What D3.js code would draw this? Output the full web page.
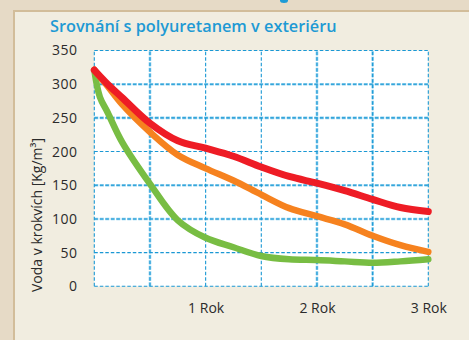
<!DOCTYPE html>
<html>
<head>
<meta charset="utf-8">
<script src="https://cdn.jsdelivr.net/npm/d3@7"></script>
<style>
  html, body { margin: 0; padding: 0; background: #e6dac6; }
  svg { display: block; }
  text { font-family: "Open Sans", "DejaVu Sans", sans-serif; }
</style>
</head>
<body>
<svg id="chart" width="469" height="340"></svg>
<script>
// Time in years (half-year steps plus a few extra points near the start)
const years = [0, 0.05, 0.12, 0.25, 0.5, 0.75, 1, 1.25, 1.5, 1.75, 2, 2.25, 2.5, 2.75, 3];

// Water content in rafters [kg/m3]
const redValues    = [321, 312, 300, 280, 242, 216, 205, 193, 177, 163, 153, 142, 129, 117, 111];
const orangeValues = [321, 311, 297, 270, 229, 195, 175, 157, 136, 116, 104, 92, 75, 61, 51];
const greenValues  = [321, 281, 258, 214, 152, 98, 72, 58, 45, 40, 39, 37, 35, 37, 40];

const yTicks = [0, 50, 100, 150, 200, 250, 300, 350];
const xTicks = [1, 2, 3];
const xGrid = [0, 0.5, 1, 1.5, 2, 2.5, 3];
const softX = [0.5, 2, 2.5];
const softY = [100, 150, 250, 300];

const titleText = "Srovnání s polyuretanem v exteriéru";
const yTitle = "Voda v krokvích [Kg/m³]";

const svg = d3.select("#chart");

// Page frame
svg.append("rect").attr("x", 0).attr("y", 0).attr("width", 469).attr("height", 340).attr("fill", "#e6dac6");
svg.append("rect").attr("x", 13).attr("y", 10).attr("width", 456).attr("height", 330).attr("fill", "#d2bd9a");
svg.append("rect").attr("x", 15).attr("y", 12).attr("width", 454).attr("height", 328).attr("fill", "#f1ede0");
svg.append("ellipse").attr("cx", 284).attr("cy", 0.5).attr("rx", 4).attr("ry", 2.5).attr("fill", "#1e9bd6");

const x = d3.scaleLinear().domain([0, 3]).range([94.3, 428.3]);
const y = d3.scaleLinear().domain([0, 350]).range([286.3, 50.5]);

// Plot background
svg.append("rect")
  .attr("x", x(0)).attr("y", y(350))
  .attr("width", x(3) - x(0)).attr("height", y(0) - y(350))
  .attr("fill", "#ffffff");

// Grid
const grid = svg.append("g");
grid.selectAll("line.hs").data(yTicks.filter(v => softY.includes(v))).join("line")
  .attr("x1", x(0)).attr("x2", x(3)).attr("y1", d => y(d)).attr("y2", d => y(d))
  .attr("stroke", "#8ccfee").attr("stroke-width", 2.6).attr("stroke-dasharray", "4,1.5");
grid.selectAll("line.vs").data(xGrid.filter(v => softX.includes(v))).join("line")
  .attr("y1", y(0)).attr("y2", y(350)).attr("x1", d => x(d)).attr("x2", d => x(d))
  .attr("stroke", "#8ccfee").attr("stroke-width", 2.6).attr("stroke-dasharray", "4,1.5");
grid.selectAll("line.h").data(yTicks).join("line")
  .attr("x1", x(0)).attr("x2", x(3)).attr("y1", d => y(d)).attr("y2", d => y(d))
  .attr("stroke", "#1a98d4").attr("stroke-width", 1.1).attr("stroke-dasharray", "3.5,2");
grid.selectAll("line.v").data(xGrid).join("line")
  .attr("y1", y(0)).attr("y2", y(350)).attr("x1", d => x(d)).attr("x2", d => x(d))
  .attr("stroke", "#1a98d4").attr("stroke-width", 1.1).attr("stroke-dasharray", "3.5,2");

// Series
const line = d3.line().x(d => x(d[0])).y(d => y(d[1])).curve(d3.curveCatmullRom.alpha(0.5));
const series = [
  { values: greenValues, color: "#78bd43", width: 6.5 },
  { values: orangeValues, color: "#f6821f", width: 6.5 },
  { values: redValues, color: "#ee1c25", width: 7 }
];
svg.selectAll("path.series").data(series).join("path")
  .attr("class", "series")
  .attr("d", s => line(years.map((t, i) => [t, s.values[i]])))
  .attr("fill", "none")
  .attr("stroke", s => s.color)
  .attr("stroke-width", s => s.width)
  .attr("stroke-linecap", "round")
  .attr("stroke-linejoin", "round");

// Y axis labels
const yAxis = svg.append("g").attr("transform", `translate(${x(0) - 17},0)`)
  .call(d3.axisLeft(y).tickValues(yTicks).tickSize(0).tickPadding(0));
yAxis.select(".domain").remove();
yAxis.selectAll("text")
  .attr("fill", "#2b2b2b").attr("font-size", 14).attr("letter-spacing", 0.4)
  .style("font-family", "'Open Sans', sans-serif");

// X axis labels
const xAxis = svg.append("g").attr("transform", `translate(0,${y(0) + 17})`)
  .call(d3.axisBottom(x).tickValues(xTicks).tickSize(0).tickPadding(0).tickFormat(d => d + " Rok"));
xAxis.select(".domain").remove();
xAxis.selectAll("text")
  .attr("fill", "#2b2b2b").attr("font-size", 14)
  .style("font-family", "'Open Sans', sans-serif");

// Y axis title
svg.append("text")
  .attr("transform", `translate(42,${(133 + 297) / 2}) rotate(-90)`)
  .attr("text-anchor", "middle")
  .attr("fill", "#2b2b2b")
  .attr("font-size", 14)
  .text(yTitle);

// Chart title
svg.append("text")
  .attr("x", 50).attr("y", 31.5)
  .attr("fill", "#1e9ad4")
  .attr("font-size", 16.3)
  .attr("font-weight", 600)
  .text(titleText);
</script>
</body>
</html>
